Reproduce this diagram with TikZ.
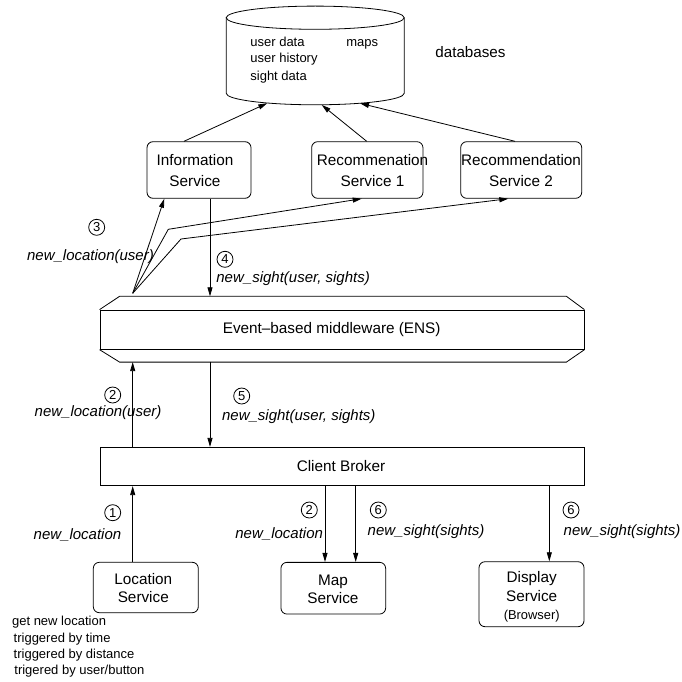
\documentclass[tikz,border=0pt]{standalone}
\usepackage{fontspec}
\setmainfont{Liberation Sans}
\usetikzlibrary{arrows.meta,calc}
\begin{document}
\begin{tikzpicture}[x=1pt,y=-1pt,line width=0.8pt,
  arr/.style={-{Triangle[length=9pt,width=5pt]}},
  svc/.style={draw,rounded corners=6pt,inner sep=0pt},
  svctext/.style={align=center,inner sep=0pt,font=\fontsize{15.3}{21.7}\selectfont},
  svctextlow/.style={align=center,inner sep=0pt,font=\fontsize{15.3}{18.3}\selectfont},
  bar/.style={draw,inner sep=0pt,minimum width=484pt},
  num/.style={draw,circle,minimum size=16pt,inner sep=0pt,line width=0.8pt,font=\fontsize{13}{13}\selectfont},
  msg/.style={anchor=west,inner sep=0pt,text height=0.72em,text depth=0.21em,font=\fontsize{15}{15}\selectfont\itshape},
  note/.style={anchor=west,inner sep=0pt,text height=0.72em,text depth=0.21em,font=\fontsize{13}{13}\selectfont}
]
\useasboundingbox (0,0) rectangle (682,682);

% ---- database cylinder ----
\draw (226.2,17.7) -- (226.2,93.3)
      arc[start angle=180,end angle=360,x radius=89pt,y radius=11.5pt]
      -- (404.2,17.7);
\draw (315.2,17.7) ellipse[x radius=89pt,y radius=11.6pt];
\node[note] (ud) at (250,44.3) {user data};
\node[note] (uh) at (250,60) {user history};
\node[note] (sd) at (250,78.3) {sight data};
\node[note] (mp) at (346,44.3) {maps};
\node[anchor=west,inner sep=0pt,font=\fontsize{15.2}{15.2}\selectfont] (dbl) at (435,52.3) {databases};
\coordinate (dbA) at (267.3,103.2);
\coordinate (dbB) at (321.7,104.9);
\coordinate (dbC) at (360,103.3);

% ---- back-end services ----
\node[svc,minimum width=104pt,minimum height=56.6pt] (info) at (199,170) {};
\node[svctext] (infot) at (195,170.4) {Information\\Service};
\node[svc,minimum width=111.3pt,minimum height=56.6pt] (rec1) at (367.3,170) {};
\node[svctext] (rec1t) at (372.5,170.4) {Recommenation\\Service 1};
\node[svc,minimum width=121pt,minimum height=56.6pt] (rec2) at (521.2,170) {};
\node[svctext] (rec2t) at (521,170.4) {Recommendation\\Service 2};

\draw[arr] ($(info.north)+(-15,0)$) -- (dbA);
\draw[arr] ($(rec1.north)+(-0.6,0)$) -- (dbB);
\draw[arr] ($(rec2.north)+(-6.2,0)$) -- (dbC);

% ---- event-based middleware ----
\node[bar,minimum height=39.3pt] (ens) at (342,329.65) {};
\node[inner sep=0pt,font=\fontsize{15.3}{15.3}\selectfont] (enst) at (331.7,329.3) {Event–based middleware (ENS)};
\draw (ens.north west) -- ++(20,-13.3) coordinate (enstl) -- ($(ens.north east)+(-18,-13.3)$) -- (ens.north east);
\draw (ens.south west) -- ++(20,12.4) coordinate (ensbl) -- ($(ens.south east)+(-18,12.4)$) -- (ens.south east);

% step 3: new location published to the services
\coordinate (fan) at (132.7,293.3);
\coordinate (bend1) at (168.3,229.3);
\coordinate (bend2) at (181,239);
\draw[arr] (fan) -- ($(info.south)+(-34.7,0)$);
\draw[arr] (fan) -- (bend1) -- ($(rec1.south)+(-5.6,0)$);
\draw[arr] (fan) -- (bend2) -- ($(rec2.south)+(-12.9,0)$);
\node[num] (n3) at (96.7,227.3) {3};
\node[msg] (m3) at (26.7,258.3) {new\_location(user)};

% step 4: sights back into the middleware
\coordinate (s4) at ($(info.south)+(11,0)$);
\draw[arr] (s4) -- (s4 |- enstl);
\node[num] (n4) at (225,259.3) {4};
\node[msg] (m4) at (216,280) {new\_sight(user, sights)};

% ---- client broker ----
\node[bar,minimum height=38.4pt] (broker) at (342,466.5) {};
\node[inner sep=0pt,font=\fontsize{15.3}{15.3}\selectfont] (brokert) at (341,466.5) {Client Broker};

\coordinate (up2) at (132.7,447.3);
\draw[arr] (up2) -- (up2 |- ensbl);
\node[num] (n2) at (112.7,395) {2};
\node[msg] (m2) at (34.3,414.3) {new\_location(user)};

\coordinate (dn5) at (210,361.7);
\draw[arr] (dn5) -- (dn5 |- broker.north);
\node[num] (n5) at (241.7,396) {5};
\node[msg] (m5) at (221.7,418.3) {new\_sight(user, sights)};

% ---- client-side services ----
\node[svc,minimum width=105pt,minimum height=50.4pt] (loc) at (145.8,587.5) {};
\node[svctextlow] (loct) at (143.3,587.7) {Location\\Service};
\node[svc,minimum width=104.7pt,minimum height=51.7pt] (map) at (333.3,588.2) {};
\node[svctextlow] (mapt) at (333,589.3) {Map\\Service};
\node[svc,minimum width=105pt,minimum height=65pt] (disp) at (531.5,594.2) {};
\node[svctextlow] (dispt) at (531.7,597) {Display\\Service\\{\fontsize{12.9}{12.9}\selectfont (Browser)}};

% step 1
\coordinate (l1) at ($(loc.north)+(-13.1,0)$);
\draw[arr] (l1) -- (l1 |- broker.south);
\node[num] (n1) at (112.7,512.7) {1};
\node[msg] (m1) at (33.3,537.3) {new\_location};

% step 2 to the map
\coordinate (mA) at ($(map.north)+(-8.3,0)$);
\draw[arr] (broker.south -| mA) -- (mA);
\node[num] (n2b) at (309.3,510) {2};
\node[msg] (m2b) at (235,536) {new\_location};

% step 6 to the map and the display
\coordinate (mB) at ($(map.north)+(22.4,0)$);
\draw[arr] (broker.south -| mB) -- (mB);
\node[num] (n6a) at (378.3,510) {6};
\node[msg] (m6a) at (367.3,532.7) {new\_sight(sights)};

\coordinate (dA) at ($(disp.north)+(17.8,0)$);
\draw[arr] (broker.south -| dA) -- (dA);
\node[num] (n6b) at (571,510) {6};
\node[msg] (m6b) at (563.3,532.7) {new\_sight(sights)};

% ---- notes on the location service ----
\node[note] (t1) at (11.7,623.3) {get new location};
\node[note] (t2) at (13.3,640) {triggered by time};
\node[note] (t3) at (13.3,656) {triggered by distance};
\node[note] (t4) at (14,672.3) {trigered by user/button};
\end{tikzpicture}
\end{document}
